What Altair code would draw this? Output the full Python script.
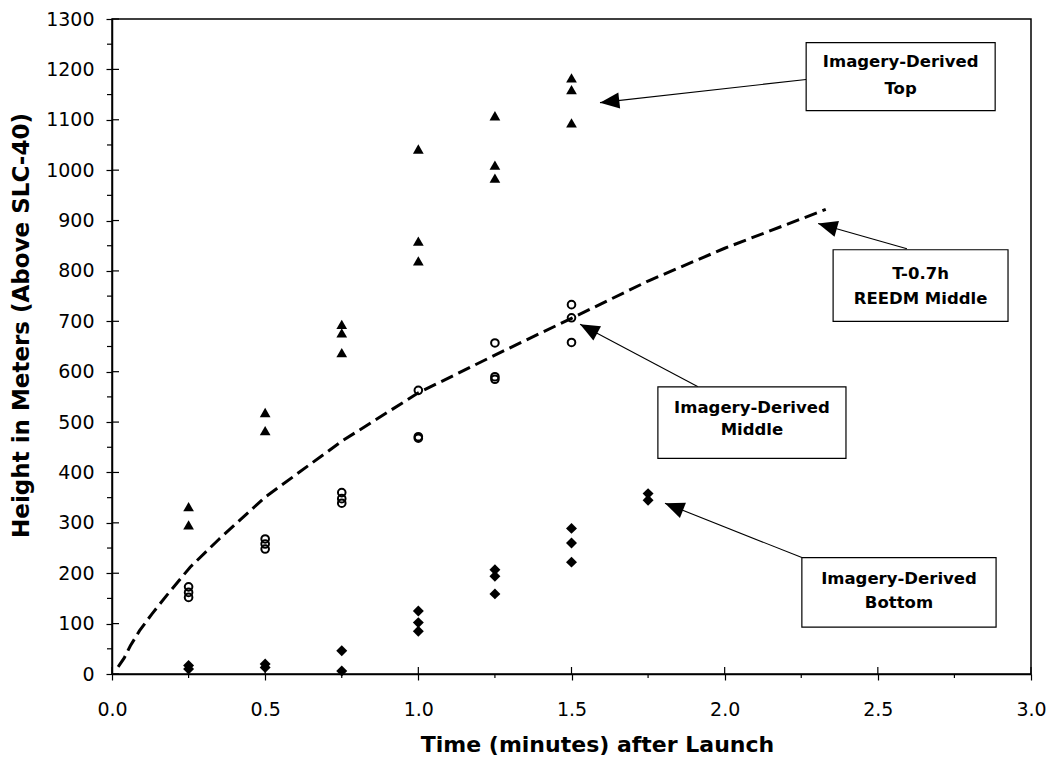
import math
import altair as alt
import pandas as pd

# ---------------- data ----------------
top_t = [0.25, 0.25, 0.5, 0.5, 0.75, 0.75, 0.75, 1.0, 1.0, 1.0, 1.25, 1.25, 1.25, 1.5, 1.5, 1.5]
top_h = [332, 296, 519, 483, 694, 677, 638, 1042, 859, 820, 1108, 1010, 984, 1183, 1160, 1094]

mid_t = [0.25, 0.25, 0.25, 0.5, 0.5, 0.5, 0.75, 0.75, 0.75, 1.0, 1.0, 1.0, 1.25, 1.25, 1.25, 1.5, 1.5, 1.5]
mid_h = [173, 162, 152, 268, 258, 248, 360, 348, 339, 563, 471, 468, 657, 590, 585, 733, 707, 658]

bot_t = [0.25, 0.25, 0.5, 0.5, 0.75, 0.75, 1.0, 1.0, 1.0, 1.25, 1.25, 1.25, 1.5, 1.5, 1.5, 1.75, 1.75]
bot_h = [17, 10, 20, 13, 46, 6, 125, 102, 85, 207, 194, 159, 289, 260, 222, 358, 345]

reedm_t = [0.02, 0.04, 0.06, 0.09, 0.13, 0.18, 0.255, 0.35, 0.5, 0.75, 1.0, 1.25, 1.5, 1.75, 2.0, 2.33]
reedm_h = [14, 32, 56, 86, 119, 157, 212, 268, 351, 462, 558, 633, 706, 780, 845, 922]

x_major = [0.0, 0.5, 1.0, 1.5, 2.0, 2.5, 3.0]
x_minor = [0.25, 0.75, 1.25, 1.75, 2.25, 2.75]
y_major = list(range(0, 1301, 100))
y_minor = list(range(50, 1300, 100))

# callouts (data units): box x0, x1, y0, y1 ; two text lines ; arrow start and tip
box_x0 = [2.266, 2.354, 1.782, 2.252]
box_x1 = [2.883, 2.925, 2.396, 2.886]
box_y0 = [1118, 700, 428, 93]
box_y1 = [1253, 842, 570, 231]
line1 = ["Imagery-Derived", "T-0.7h", "Imagery-Derived", "Imagery-Derived"]
line2 = ["Top", "REEDM Middle", "Middle", "Bottom"]
line1_y = [1214, 794, 528, 189]
line2_y = [1162, 745, 484, 140]
arr_x0 = [2.266, 2.595, 1.913, 2.252]
arr_y0 = [1180, 844, 570, 231]
arr_x1 = [1.593, 2.305, 1.528, 1.805]
arr_y1 = [1134, 894, 694, 339]

W, H = 919, 655
XMAX, YMAX = 3.0, 1300.0
FONT = "DejaVu Sans"

xs = alt.Scale(domain=[0, XMAX], nice=False, zero=False)
ys = alt.Scale(domain=[0, YMAX], nice=False, zero=False)

ax_x = alt.Axis(
    values=x_major, format=".1f", title="Time (minutes) after Launch",
    grid=False, domainColor="black", domainWidth=1.5, tickColor="black", tickWidth=1.2,
    tickSize=6, labelFont=FONT, labelFontSize=19, labelColor="black",
    labelPadding=35, labelBaseline="alphabetic", labelFlush=False,
    titleFont=FONT, titleFontSize=22, titleFontWeight="bold", titleColor="black",
    titleX=485, titleY=77, titleBaseline="alphabetic", titleAnchor="middle")
ax_y = alt.Axis(
    values=y_major, format="d", title="Height in Meters (Above SLC-40)",
    grid=False, domainColor="black", domainWidth=1.5, tickColor="black", tickWidth=1.2,
    tickSize=6, labelFont=FONT, labelFontSize=19, labelColor="black",
    labelPadding=12, labelFlush=False,
    titleFont=FONT, titleFontSize=23, titleFontWeight="bold", titleColor="black",
    titleX=-84, titleY=306, titleAngle=270, titleBaseline="alphabetic", titleAlign="center")


def X(f="t"):
    return alt.X(f + ":Q", scale=xs, axis=ax_x)


def Y(f="h"):
    return alt.Y(f + ":Q", scale=ys, axis=ax_y)


pts = pd.DataFrame({
    "t": top_t + mid_t + bot_t,
    "h": top_h + mid_h + bot_h,
    "s": ["top"] * len(top_t) + ["mid"] * len(mid_t) + ["bot"] * len(bot_t),
})
curve = pd.DataFrame({"t": reedm_t, "h": reedm_h})

line = alt.Chart(curve).mark_line(color="black", strokeWidth=3, strokeDash=[13, 6]).encode(
    x=X(), y=Y())

tri = alt.Chart(pts).transform_filter("datum.s == 'top'").mark_point(
    shape="triangle-up", filled=True, color="black", size=115, opacity=1).encode(x=X(), y=Y())
circ = alt.Chart(pts).transform_filter("datum.s == 'mid'").mark_point(
    shape="circle", filled=False, color="black", size=58, strokeWidth=2, opacity=1).encode(x=X(), y=Y())
dia = alt.Chart(pts).transform_filter("datum.s == 'bot'").mark_point(
    shape="diamond", filled=True, color="black", size=120, opacity=1).encode(x=X(), y=Y())

# extra ticks (inward majors, outward minors)
xmaj_in = alt.Chart(pd.DataFrame({"t": x_major})).mark_rule(color="black", strokeWidth=1.2).encode(
    x=X(), y=alt.value(H - 7), y2=alt.value(H))
xmin_t = alt.Chart(pd.DataFrame({"t": x_minor})).mark_rule(color="black", strokeWidth=1.2).encode(
    x=X(), y=alt.value(H), y2=alt.value(H + 4))
ymaj_in = alt.Chart(pd.DataFrame({"h": y_major})).mark_rule(color="black", strokeWidth=1.2).encode(
    y=Y(), x=alt.value(0), x2=alt.value(7))
ymin_t = alt.Chart(pd.DataFrame({"h": y_minor})).mark_rule(color="black", strokeWidth=1.2).encode(
    y=Y(), x=alt.value(-5), x2=alt.value(0))

# callouts
sx, sy = W / XMAX, H / YMAX
ang = []
for a0, b0, a1, b1 in zip(arr_x0, arr_y0, arr_x1, arr_y1):
    dx = (a1 - a0) * sx
    dy = -(b1 - b0) * sy
    ang.append(math.degrees(math.atan2(dy, dx)) % 360)

boxes = pd.DataFrame({"x0": box_x0, "x1": box_x1, "y0": box_y0, "y1": box_y1})
texts = pd.DataFrame({
    "t": [(a + b) / 2 for a, b in zip(box_x0, box_x1)] * 2,
    "h": line1_y + line2_y,
    "txt": line1 + line2,
})
arrows = pd.DataFrame({"x0": arr_x0, "y0": arr_y0, "x1": arr_x1, "y1": arr_y1, "ang": ang})

arr_lines = alt.Chart(arrows).mark_rule(color="black", strokeWidth=1.1).encode(
    x=X("x0"), y=Y("y0"), x2=alt.X2("x1"), y2=alt.Y2("y1"))
arr_heads = alt.Chart(arrows).mark_point(
    shape="M0,0L-1,-0.42L-1,0.42Z", filled=True, color="black", size=1500, opacity=1).encode(
    x=X("x1"), y=Y("y1"), angle=alt.Angle("ang:Q", scale=None))
box = alt.Chart(boxes).mark_rect(fill="white", stroke="black", strokeWidth=1.2).encode(
    x=X("x0"), x2=alt.X2("x1"), y=Y("y0"), y2=alt.Y2("y1"))
txt = alt.Chart(texts).mark_text(font=FONT, fontSize=16.5, fontWeight="bold", color="black",
                                  baseline="middle", align="center").encode(
    x=X(), y=Y(), text="txt:N")

chart = alt.layer(
    line, tri, circ, dia, xmaj_in, xmin_t, ymaj_in, ymin_t, arr_lines, arr_heads, box, txt
).properties(
    width=W, height=H,
    autosize=alt.AutoSizeParams(type="none"),
    padding={"left": 104, "top": 11, "right": 20, "bottom": 90},
    background="white",
).configure_view(stroke="black", strokeWidth=1.5)

chart.save("out.html", embed_options={"renderer": "svg", "actions": False})
